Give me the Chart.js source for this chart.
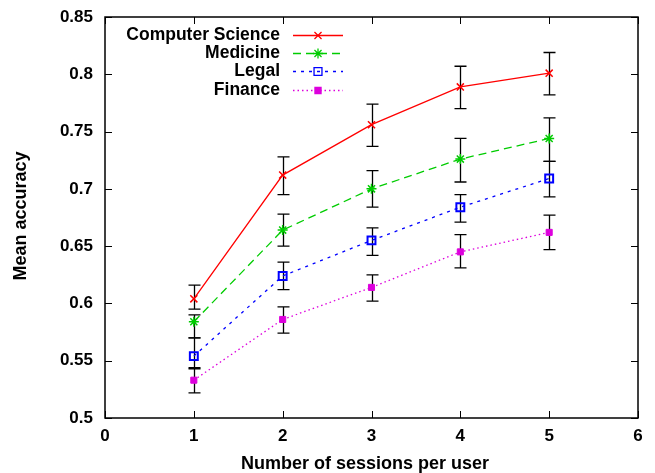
<!DOCTYPE html>
<html>
<head>
<meta charset="utf-8">
<script src="https://cdn.jsdelivr.net/npm/chart.js@4"></script>
<style>
  html, body { margin: 0; padding: 0; background: #fff; }
  #wrap { width: 655px; height: 473px; position: relative; }
</style>
</head>
<body>
<div id="wrap"><canvas id="chart"></canvas></div>
<script>
const sessions = [1, 2, 3, 4, 5];
const seriesNames = ['Computer Science', 'Medicine', 'Legal', 'Finance'];

const csMean = [0.604, 0.712, 0.756, 0.789, 0.801];
const csLow  = [0.595, 0.695, 0.737, 0.770, 0.782];
const csHigh = [0.616, 0.728, 0.774, 0.807, 0.819];

const medMean = [0.584, 0.664, 0.700, 0.726, 0.744];
const medLow  = [0.570, 0.650, 0.684, 0.706, 0.724];
const medHigh = [0.590, 0.678, 0.716, 0.744, 0.762];

const legMean = [0.554, 0.624, 0.655, 0.684, 0.709];
const legLow  = [0.543, 0.612, 0.642, 0.671, 0.693];
const legHigh = [0.570, 0.636, 0.666, 0.695, 0.724];

const finMean = [0.533, 0.586, 0.614, 0.645, 0.662];
const finLow  = [0.522, 0.574, 0.602, 0.631, 0.647];
const finHigh = [0.544, 0.597, 0.625, 0.660, 0.677];

const xTicks = [0, 1, 2, 3, 4, 5, 6];
const yTicks = [0.5, 0.55, 0.6, 0.65, 0.7, 0.75, 0.8, 0.85];

const FONT = '"Liberation Sans", Arial, sans-serif';

function pts(mean, low, high) {
  return sessions.map((s, i) => ({ x: s, y: mean[i], yMin: low[i], yMax: high[i] }));
}

const styles = [
  { color: '#ff0000', dash: [], point: 'crossRot', r: 5, bw: 1.5, fill: '#ff0000' },
  { color: '#00cc00', dash: [8, 5], point: 'star', r: 5, bw: 1.5, fill: '#00cc00' },
  { color: '#0000ff', dash: [3, 5], point: 'rect', r: 5.6, bw: 2, fill: 'rgba(0,0,0,0)' },
  { color: '#dd00dd', dash: [1.5, 3], point: 'rect', r: 4.3, bw: 1, fill: '#dd00dd' },
];
const allData = [
  pts(csMean, csLow, csHigh),
  pts(medMean, medLow, medHigh),
  pts(legMean, legLow, legHigh),
  pts(finMean, finLow, finHigh),
];

const datasets = seriesNames.map((name, i) => ({
  label: name,
  data: allData[i],
  borderColor: styles[i].color,
  borderDash: styles[i].dash,
  borderWidth: 1.3,
  pointStyle: styles[i].point,
  pointRadius: styles[i].r,
  pointBorderWidth: styles[i].bw,
  pointBorderColor: styles[i].color,
  pointBackgroundColor: styles[i].fill,
  tension: 0,
  fill: false,
}));

const errorBars = {
  id: 'errorBars',
  beforeDatasetsDraw(chart) {
    const { ctx, scales: { x, y } } = chart;
    ctx.save();
    ctx.strokeStyle = '#000';
    ctx.lineWidth = 1.3;
    chart.data.datasets.forEach(ds => {
      ds.data.forEach(p => {
        const px = Math.round(x.getPixelForValue(p.x)) + 0.5;
        const top = y.getPixelForValue(p.yMax);
        const bot = y.getPixelForValue(p.yMin);
        ctx.beginPath();
        ctx.moveTo(px, top); ctx.lineTo(px, bot);
        ctx.moveTo(px - 6, top); ctx.lineTo(px + 6, top);
        ctx.moveTo(px - 6, bot); ctx.lineTo(px + 6, bot);
        ctx.stroke();
      });
    });
    ctx.restore();
  }
};

const frame = {
  id: 'frame',
  afterDraw(chart) {
    const { ctx, chartArea: a, scales: { x, y } } = chart;
    ctx.save();
    ctx.strokeStyle = '#000';
    ctx.lineWidth = 1.5;
    ctx.strokeRect(a.left, a.top, a.right - a.left, a.bottom - a.top);
    ctx.lineWidth = 1;
    ctx.beginPath();
    xTicks.forEach(v => {
      const px = Math.round(x.getPixelForValue(v)) + 0.5;
      ctx.moveTo(px, a.bottom); ctx.lineTo(px, a.bottom - 7);
      ctx.moveTo(px, a.top); ctx.lineTo(px, a.top + 7);
    });
    yTicks.forEach(v => {
      const py = Math.round(y.getPixelForValue(v)) + 0.5;
      ctx.moveTo(a.left, py); ctx.lineTo(a.left + 7, py);
      ctx.moveTo(a.right, py); ctx.lineTo(a.right - 7, py);
    });
    ctx.stroke();

    // axis titles
    ctx.fillStyle = '#000';
    ctx.font = 'bold 18px ' + FONT;
    ctx.textAlign = 'center';
    ctx.textBaseline = 'middle';
    ctx.fillText('Number of sessions per user', 365, 464);
    ctx.translate(21, 216);
    ctx.rotate(-Math.PI / 2);
    ctx.fillText('Mean accuracy', 0, 0);
    ctx.restore();

    // legend
    ctx.save();
    ctx.font = 'bold 17.5px ' + FONT;
    ctx.textAlign = 'right';
    ctx.textBaseline = 'middle';
    const rows = [35, 53, 71, 90];
    chart.data.datasets.forEach((ds, i) => {
      const ly = rows[i];
      ctx.fillStyle = '#000';
      ctx.fillText(ds.label, 280, ly);
      ctx.strokeStyle = ds.borderColor;
      ctx.lineWidth = ds.borderWidth;
      ctx.setLineDash(ds.borderDash);
      ctx.beginPath();
      ctx.moveTo(293, ly + 0.5); ctx.lineTo(343, ly + 0.5);
      ctx.stroke();
      ctx.setLineDash([]);
      ctx.fillStyle = ds.pointBackgroundColor;
      Chart.helpers.drawPoint(ctx, {
        pointStyle: ds.pointStyle, radius: ds.pointRadius, borderWidth: ds.pointBorderWidth, rotation: 0
      }, 318, ly + 0.5);
    });
    ctx.restore();
  }
};

new Chart(document.getElementById('chart'), {
  type: 'line',
  data: { datasets },
  options: {
    responsive: true,
    maintainAspectRatio: false,
    animation: false,
    layout: { padding: { top: 17, right: 17, left: 0, bottom: 0 } },
    plugins: { legend: { display: false }, tooltip: { enabled: false } },
    scales: {
      x: {
        type: 'linear', min: 0, max: 6,
        grid: { display: false, drawTicks: false },
        border: { display: false },
        afterFit: s => { s.height = 55; s.paddingLeft = 0; s.paddingRight = 0; },
        afterBuildTicks: s => { s.ticks = xTicks.map(v => ({ value: v })); },
        ticks: { color: '#000', padding: 8, font: { family: FONT, size: 17, weight: 'bold' }, maxRotation: 0 }
      },
      y: {
        type: 'linear', min: 0.5, max: 0.85,
        grid: { display: false, drawTicks: false },
        border: { display: false },
        afterFit: s => { s.width = 105; s.paddingTop = 0; s.paddingBottom = 0; },
        afterBuildTicks: s => { s.ticks = yTicks.map(v => ({ value: v })); },
        ticks: {
          color: '#000', padding: 12, font: { family: FONT, size: 17, weight: 'bold' },
          callback: v => String(+v.toFixed(2))
        }
      }
    }
  },
  plugins: [errorBars, frame]
});
</script>
</body>
</html>
